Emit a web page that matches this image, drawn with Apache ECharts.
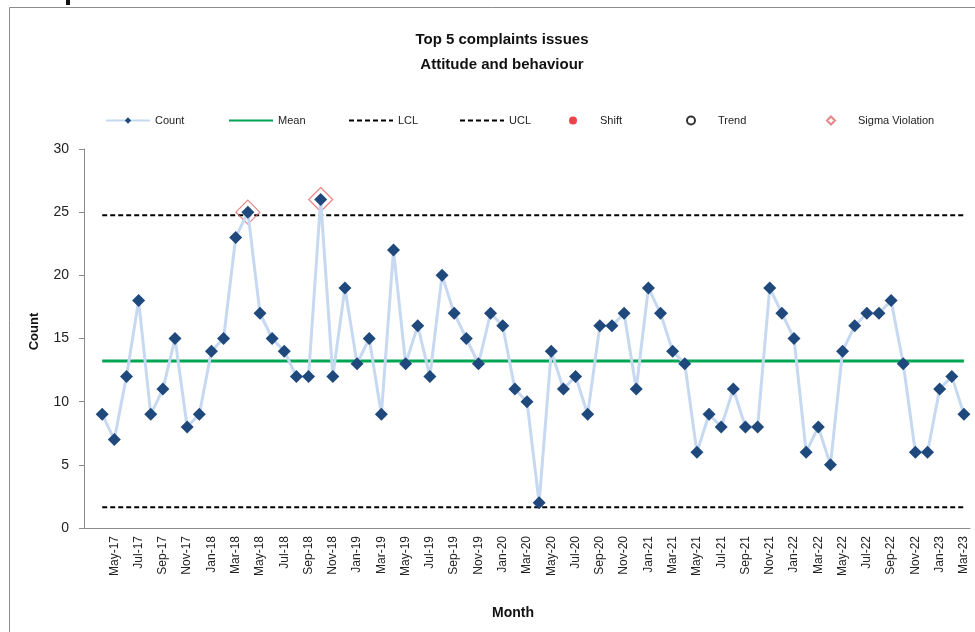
<!DOCTYPE html>
<html>
<head>
<meta charset="utf-8">
<script src="https://cdn.jsdelivr.net/npm/echarts@6/dist/echarts.min.js"></script>
<style>
html,body{margin:0;padding:0;background:#fff;}
#main{width:975px;height:632px;}
</style>
</head>
<body>
<div id="main"></div>
<script>
const months = ["Apr-17","May-17","Jun-17","Jul-17","Aug-17","Sep-17","Oct-17","Nov-17","Dec-17",
"Jan-18","Feb-18","Mar-18","Apr-18","May-18","Jun-18","Jul-18","Aug-18","Sep-18","Oct-18","Nov-18","Dec-18",
"Jan-19","Feb-19","Mar-19","Apr-19","May-19","Jun-19","Jul-19","Aug-19","Sep-19","Oct-19","Nov-19","Dec-19",
"Jan-20","Feb-20","Mar-20","Apr-20","May-20","Jun-20","Jul-20","Aug-20","Sep-20","Oct-20","Nov-20","Dec-20",
"Jan-21","Feb-21","Mar-21","Apr-21","May-21","Jun-21","Jul-21","Aug-21","Sep-21","Oct-21","Nov-21","Dec-21",
"Jan-22","Feb-22","Mar-22","Apr-22","May-22","Jun-22","Jul-22","Aug-22","Sep-22","Oct-22","Nov-22","Dec-22",
"Jan-23","Feb-23","Mar-23"];
const counts = [9,7,12,18,9,11,15,8,9,
14,15,23,25,17,15,14,12,12,26,12,19,
13,15,9,22,13,16,12,20,17,15,13,17,
16,11,10,2,14,11,12,9,16,16,17,11,
19,17,14,13,6,9,8,11,8,8,19,17,
15,6,8,5,14,16,17,17,18,13,6,6,
11,12,9];
const meanValue = 13.21;
const lclValue = 1.65;
const uclValue = 24.75;
const yTicks = [0,5,10,15,20,25,30];
const titleLines = ["Top 5 complaints issues","Attitude and behaviour"];

// the axis has one empty leading slot before the first month
const categories = [""].concat(months);
const countData = [null].concat(counts);
const meanData = [null].concat(months.map(() => meanValue));
const lclData = [null].concat(months.map(() => lclValue));
const uclData = [null].concat(months.map(() => uclValue));
const sigmaData = [null].concat(counts.map(v => (v > uclValue || v < lclValue) ? v : null));
const emptyData = categories.map(() => null);

const FONT = "Liberation Sans";
const chart = echarts.init(document.getElementById('main'));

function lg(name, left, extra) {
  const d = Object.assign({name: name}, extra || {});
  return {
    data: [d], left: left, top: 115, padding: 0, itemWidth: 44, itemHeight: 8, itemGap: 5,
    textStyle: {fontFamily: FONT, fontSize: 11, color: '#222'},
    selectedMode: false
  };
}
const noSym = {itemStyle: {opacity: 0}};
const diamondWide = 'path://M0,4L0.01,4M22,0L26,4L22,8L18,4ZM44,4L43.99,4';

chart.setOption({
  animation: false,
  backgroundColor: '#fff',
  title: {
    text: titleLines.join('\n'), left: 497, top: 22, textAlign: 'center',
    textStyle: {fontFamily: FONT, fontSize: 15, fontWeight: 'bold', color: '#111', lineHeight: 25}
  },
  legend: [
    lg('Count', 105),
    lg('Mean', 228, noSym),
    lg('LCL', 348, noSym),
    lg('UCL', 459, noSym),
    lg('Shift', 569, {icon: 'circle'}),
    lg('Trend', 686, {icon: 'circle'}),
    lg('Sigma Violation', 808, {icon: diamondWide})
  ],
  graphic: [
    {type: 'rect', left: 7, top: 5, shape: {width: 975, height: 626}, style: {fill: 'none', stroke: '#8c8c8c', lineWidth: 1}, silent: true},
    {type: 'rect', left: 66, top: 0, shape: {width: 4, height: 5}, style: {fill: '#111'}, silent: true}
  ],
  grid: {left: 84, right: 5, top: 149, bottom: 104},
  xAxis: {
    type: 'category', data: categories, boundaryGap: true,
    name: 'Month', nameLocation: 'middle', nameGap: 78,
    nameTextStyle: {fontFamily: FONT, fontSize: 14, fontWeight: 'bold', color: '#111', padding: [0, 28, 0, 0]},
    axisLine: {lineStyle: {color: '#8c8c8c', width: 1}},
    axisTick: {interval: 0, length: 5, lineStyle: {color: '#8c8c8c'}},
    axisLabel: {
      interval: (i) => i > 0 && i % 2 === 0, rotate: 90, margin: 8,
      fontFamily: FONT, fontSize: 12, color: '#222'
    },
    splitLine: {show: false}
  },
  yAxis: {
    type: 'value', min: yTicks[0], max: yTicks[yTicks.length - 1], interval: 5,
    name: 'Count', nameLocation: 'middle', nameGap: 43, nameRotate: 90,
    nameTextStyle: {fontFamily: FONT, fontSize: 13, fontWeight: 'bold', color: '#111', padding: [0, 0, 0, 14]},
    axisLine: {show: true, lineStyle: {color: '#8c8c8c', width: 1}},
    axisTick: {show: true, length: 5, lineStyle: {color: '#8c8c8c'}},
    axisLabel: {fontFamily: FONT, fontSize: 14, color: '#222', margin: 15},
    splitLine: {show: false}
  },
  series: [
    {name: 'Count', type: 'line', data: countData, symbol: 'diamond', symbolSize: 13, showAllSymbol: true,
      lineStyle: {color: '#c6d9f0', width: 3}, itemStyle: {color: '#1f497d'}, z: 5},
    {name: 'Mean', type: 'line', data: meanData, symbol: 'none',
      lineStyle: {color: '#00a651', width: 3}, itemStyle: {color: '#00a651'}, z: 3},
    {name: 'LCL', type: 'line', data: lclData, symbol: 'none',
      lineStyle: {color: '#000', width: 2, type: [5, 3]}, itemStyle: {color: '#000'}, z: 3},
    {name: 'UCL', type: 'line', data: uclData, symbol: 'none',
      lineStyle: {color: '#000', width: 2, type: [5, 3]}, itemStyle: {color: '#000'}, z: 3},
    {name: 'Shift', type: 'scatter', data: emptyData, symbol: 'circle', symbolSize: 7,
      itemStyle: {color: '#e8141c'}},
    {name: 'Trend', type: 'scatter', data: emptyData, symbol: 'circle', symbolSize: 8,
      itemStyle: {color: '#fff', borderColor: '#000', borderWidth: 2}},
    {name: 'Sigma Violation', type: 'scatter', data: sigmaData, symbol: 'diamond', symbolSize: 24,
      itemStyle: {color: 'rgba(255,255,255,0)', borderColor: '#e06666', borderWidth: 1.2}, z: 4}
  ]
});
</script>
</body>
</html>
